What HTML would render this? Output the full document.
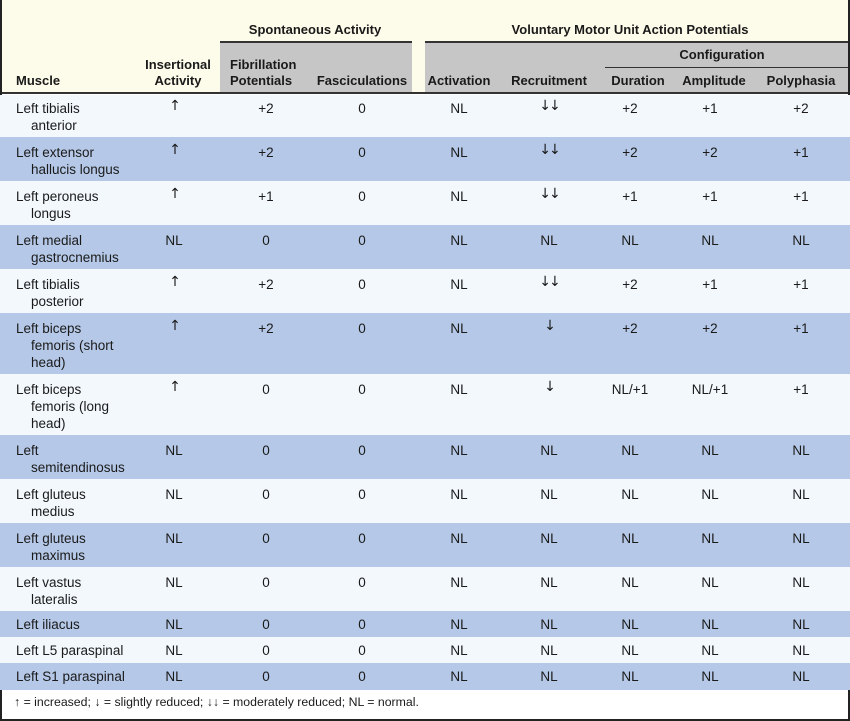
<!DOCTYPE html>
<html><head><style>
body{margin:0;width:850px;height:721px;background:#fff;font-family:"Liberation Sans",sans-serif;font-size:13.5px;color:#1a1a1a;position:relative;overflow:hidden}
.a{position:absolute}
.c{position:absolute;transform:translateX(-50%);white-space:nowrap;text-align:center}
.h{font-weight:bold;font-size:13px}
.m{position:absolute;left:16px;line-height:17px}
.m span{display:block;padding-left:15px}
.ar{font-family:"DejaVu Sans",sans-serif;font-size:14px;letter-spacing:-2px}
</style></head><body>
<div class="a" style="left:0;top:0;width:850px;height:93px;background:#fdfbe9"></div>
<div class="a" style="left:220px;top:42px;width:192px;height:51px;background:#c6c6c6"></div>
<div class="a" style="left:425px;top:42px;width:425px;height:51px;background:#c6c6c6"></div>
<div class="a" style="left:220px;top:41px;width:192px;height:2px;background:#333"></div>
<div class="a" style="left:425px;top:41px;width:425px;height:2px;background:#333"></div>
<div class="a" style="left:605px;top:67px;width:245px;height:1px;background:#333"></div>
<div class="a" style="left:0;top:92px;width:850px;height:2px;background:#333"></div>
<div class="a" style="left:0;top:0;width:2px;height:721px;background:#222"></div>
<div class="a" style="left:848px;top:0;width:2px;height:721px;background:#222"></div>
<div class="a" style="left:0;top:719px;width:850px;height:2px;background:#222"></div>

<div class="c h" style="left:315px;top:22px">Spontaneous Activity</div>
<div class="c h" style="left:630px;top:22px">Voluntary Motor Unit Action Potentials</div>
<div class="c h" style="left:722px;top:47px">Configuration</div>
<div class="a h" style="left:16px;top:73px">Muscle</div>
<div class="c h" style="left:178px;top:57px;line-height:16px">Insertional<br>Activity</div>
<div class="a h" style="left:230px;top:57px;line-height:16px">Fibrillation<br>Potentials</div>
<div class="c h" style="left:362px;top:73px">Fasciculations</div>
<div class="c h" style="left:459px;top:73px">Activation</div>
<div class="c h" style="left:549px;top:73px">Recruitment</div>
<div class="c h" style="left:638px;top:73px">Duration</div>
<div class="c h" style="left:714px;top:73px">Amplitude</div>
<div class="c h" style="left:801px;top:73px">Polyphasia</div>

<div id="rows"></div>
<div class="a" style="left:14px;top:695px;font-size:12.3px">↑ = increased; ↓ = slightly reduced; ↓↓ = moderately reduced; NL = normal.</div>
<script>
var d=[
[93,137,"Left tibialis","anterior","↑","+2","0","NL","↓↓","+2","+1","+2"],
[137,181,"Left extensor","hallucis longus","↑","+2","0","NL","↓↓","+2","+2","+1"],
[181,225,"Left peroneus","longus","↑","+1","0","NL","↓↓","+1","+1","+1"],
[225,269,"Left medial","gastrocnemius","NL","0","0","NL","NL","NL","NL","NL"],
[269,313,"Left tibialis","posterior","↑","+2","0","NL","↓↓","+2","+1","+1"],
[313,374,"Left biceps","femoris (short<br>head)","↑","+2","0","NL","↓","+2","+2","+1"],
[374,435,"Left biceps","femoris (long<br>head)","↑","0","0","NL","↓","NL/+1","NL/+1","+1"],
[435,479,"Left","semitendinosus","NL","0","0","NL","NL","NL","NL","NL"],
[479,523,"Left gluteus","medius","NL","0","0","NL","NL","NL","NL","NL"],
[523,567,"Left gluteus","maximus","NL","0","0","NL","NL","NL","NL","NL"],
[567,611,"Left vastus","lateralis","NL","0","0","NL","NL","NL","NL","NL"],
[611,637,"Left iliacus","","NL","0","0","NL","NL","NL","NL","NL"],
[637,663,"Left L5 paraspinal","","NL","0","0","NL","NL","NL","NL","NL"],
[663,690,"Left S1 paraspinal","","NL","0","0","NL","NL","NL","NL","NL"]];
var xs=[174,266,362,459,549,630,710,801],h="";
d.forEach(function(r,i){
h+='<div class="a" style="left:0;top:'+(r[0]+(i?0:2))+'px;width:850px;height:'+(r[1]-r[0]-(i?0:2))+'px;background:'+(i%2?'#b5c8e7':'#f3f8fd')+'"></div>';
var t=r[0]+(r[1]-r[0]<30?5:7);
h+='<div class="m" style="top:'+t+'px">'+r[2]+(r[3]?'<span>'+r[3]+'</span>':'')+'</div>';
for(var k=0;k<8;k++){var v=r[4+k];var ar=/[↑↓]/.test(v);
h+='<div class="c'+(ar?' ar':'')+'" style="left:'+xs[k]+'px;top:'+(t+(ar?-2:0))+'px;line-height:17px">'+v+'</div>';}
});
document.getElementById('rows').innerHTML=h;
</script>
</body></html>
